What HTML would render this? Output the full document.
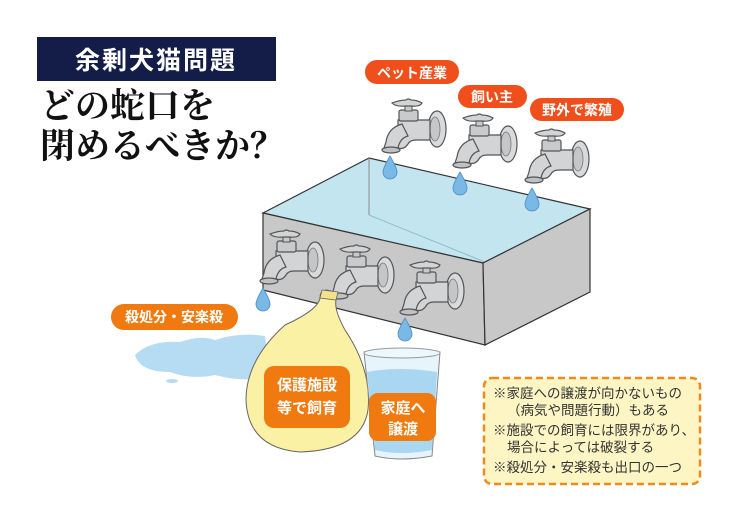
<!DOCTYPE html>
<html><head><meta charset="utf-8"><style>
html,body{margin:0;padding:0;background:#fff;}
svg{display:block;}
text{font-family:"Liberation Sans","Noto Sans CJK JP",sans-serif;}
</style></head><body>
<svg width="736" height="520" viewBox="0 0 736 520" xmlns="http://www.w3.org/2000/svg">
<defs>
<g id="fau">
  <ellipse cx="57" cy="31" rx="9" ry="18" fill="#d8dadc" stroke="#555" stroke-width="1.2"/>
  <ellipse cx="55" cy="31" rx="5" ry="12" fill="#c4c6c8" stroke="#777" stroke-width="0.8"/>
  <path d="M18 22 H50 V42 H36 Q30 42 28 46 Q24 52 18 50 L14 50 Q12 38 18 30 Z" fill="#d2d4d6" stroke="#555" stroke-width="1.2"/>
  <path d="M22 26 Q8 30 6 44 L4 50 H18 Q20 40 28 38 Z" fill="#d2d4d6" stroke="#555" stroke-width="1.2"/>
  <ellipse cx="11" cy="52" rx="9" ry="3" fill="#bfc1c3" stroke="#555" stroke-width="1.2"/>
  <rect x="19" y="12" width="19" height="11" rx="2" fill="#c8cacc" stroke="#555" stroke-width="1.2"/>
  <rect x="25" y="6" width="7" height="7" fill="#c8cacc" stroke="#555" stroke-width="1"/>
  <path d="M12 5 Q20 2 26 2 Q28 0 31 2 Q37 2 42 5 Q40 9 31 8 L26 8 Q16 9 12 5Z" fill="#d2d4d6" stroke="#555" stroke-width="1.2"/>
</g>
<path id="drop" d="M0 0 Q-7 12 -7 16 A7 7 0 0 0 7 16 Q7 12 0 0Z" fill="#7ab8e6" stroke="#4a8cc8" stroke-width="0.8"/>
</defs>

<!-- title -->
<rect x="37" y="37" width="239" height="44" fill="#141c48"/>
<text x="156" y="69" fill="#fff" font-size="25" font-weight="bold" text-anchor="middle" letter-spacing="2">余剰犬猫問題</text>
<text x="40" y="118" font-size="35" font-weight="bold" fill="#111" style="font-family:'Noto Serif CJK SC','Liberation Serif',serif">どの蛇口を</text>
<text x="40" y="158" font-size="35" font-weight="bold" fill="#111" style="font-family:'Noto Serif CJK SC','Liberation Serif',serif">閉めるべきか？</text>

<!-- puddle -->
<path d="M135 355 Q150 340 180 342 Q200 335 215 340 Q240 332 265 336 L270 378 Q240 382 215 375 Q190 380 170 372 Q140 372 135 355Z" fill="#b5dcf2"/>
<ellipse cx="172" cy="381" rx="6" ry="2" fill="#b5dcf2"/>

<!-- tank -->
<polygon points="263,213 369,158 590,209 483,263" fill="#c2e5f0" stroke="#333" stroke-width="1.2"/>
<line x1="369" y1="158" x2="369" y2="215" stroke="#888" stroke-width="1"/>
<line x1="369" y1="215" x2="485" y2="262" stroke="#8fbccc" stroke-width="1"/>
<polygon points="263,213 483,263 485,345 263,290" fill="#c8c8c8" stroke="#333" stroke-width="1.2"/>
<polygon points="483,263 590,209 590,292 485,345" fill="#c8c8c8" stroke="#333" stroke-width="1.2"/>

<!-- front faucets -->
<use href="#fau" x="258" y="229"/>
<use href="#fau" x="328" y="244"/>
<use href="#fau" x="398" y="260"/>
<!-- top faucets -->
<use href="#fau" x="380" y="98"/>
<use href="#fau" x="451" y="113"/>
<use href="#fau" x="523" y="128"/>

<use href="#drop" x="390" y="156"/>
<use href="#drop" x="460" y="172"/>
<use href="#drop" x="532" y="188"/>
<use href="#drop" x="263" y="288"/>
<use href="#drop" x="405" y="318"/>

<!-- bag -->
<path d="M327 290 Q338 292 336 300 Q334 310 345 330 Q372 370 368 410 Q362 450 300 452 Q248 448 246 400 Q246 360 285 325 Q318 310 320 298 Q320 290 327 290Z" fill="#fbf1a4" stroke="#666" stroke-width="1"/>
<path d="M322 290 L338 292 L336 300 L320 298Z" fill="#f3e28a" stroke="#666" stroke-width="0.8"/>

<!-- glass -->
<path d="M364 352 Q400 345 440 352 L432 456 Q400 462 375 456 Z" fill="#e6f4fb" stroke="#888" stroke-width="1"/>
<path d="M367 372 Q400 366 437 372 L432 450 Q400 456 375 450 Z" fill="#a9d6f1"/>
<ellipse cx="402" cy="353" rx="38" ry="5" fill="#eef8fc" stroke="#999" stroke-width="1"/>

<!-- labels -->
<rect x="365" y="60" width="94" height="24" rx="12" fill="#f04e1a"/>
<text x="412" y="78" fill="#fff" font-size="14" font-weight="bold" text-anchor="middle">ペット産業</text>
<rect x="458" y="85" width="69" height="23" rx="11.5" fill="#f04e1a"/>
<text x="492" y="102" fill="#fff" font-size="14" font-weight="bold" text-anchor="middle">飼い主</text>
<rect x="530" y="98" width="94" height="23" rx="11.5" fill="#f04e1a"/>
<text x="577" y="115" fill="#fff" font-size="14" font-weight="bold" text-anchor="middle">野外で繁殖</text>
<rect x="111" y="304" width="127" height="26" rx="13" fill="#f07a10"/>
<text x="174" y="322" fill="#fff" font-size="14" font-weight="bold" text-anchor="middle">殺処分・安楽殺</text>
<rect x="264" y="366" width="86" height="62" rx="10" fill="#f07a10"/>
<text x="307" y="390" fill="#fff" font-size="15" font-weight="bold" text-anchor="middle">保護施設</text>
<text x="307" y="413" fill="#fff" font-size="15" font-weight="bold" text-anchor="middle">等で飼育</text>
<rect x="369" y="393" width="67" height="48" rx="9" fill="#f07a10"/>
<text x="403" y="413" fill="#fff" font-size="15" font-weight="bold" text-anchor="middle">家庭へ</text>
<text x="403" y="434" fill="#fff" font-size="15" font-weight="bold" text-anchor="middle">譲渡</text>

<!-- note -->
<rect x="484" y="378" width="216" height="106" rx="8" fill="#fdf6c4" stroke="#f08a1a" stroke-width="2.5" stroke-dasharray="7,4"/>
<g font-size="13.5" fill="#333">
<text x="493" y="398">※家庭への譲渡が向かないもの</text>
<text x="507" y="415">（病気や問題行動）もある</text>
<text x="493" y="435">※施設での飼育には限界があり、</text>
<text x="507" y="452">場合によっては破裂する</text>
<text x="493" y="472">※殺処分・安楽殺も出口の一つ</text>
</g>
</svg>
</body></html>
